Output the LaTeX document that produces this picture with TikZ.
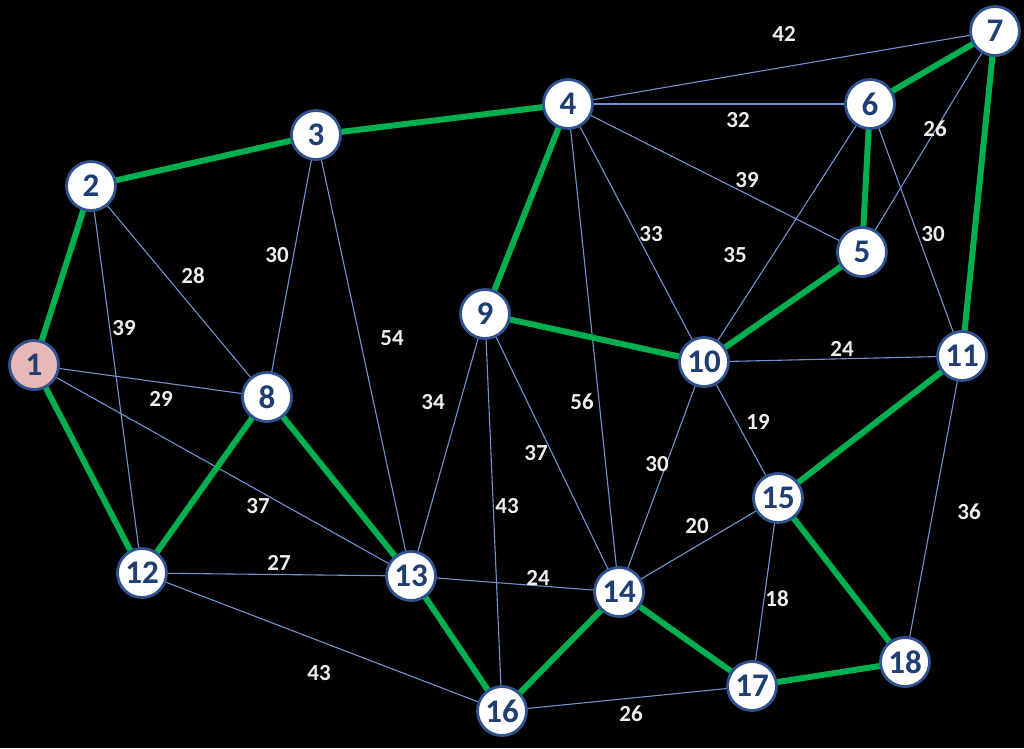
\documentclass[tikz,border=0pt]{standalone}
\usepackage{fontspec}
\setmainfont{Carlito}
\definecolor{tree}{HTML}{00B050}
\definecolor{thin}{HTML}{7193D2}
\definecolor{nborder}{HTML}{2F5290}
\definecolor{ntext}{HTML}{1F3F73}
\definecolor{lbl}{HTML}{EDEDED}
\definecolor{pinkfill}{HTML}{E6B9B8}
\pgfdeclarelayer{back}
\pgfdeclarelayer{bg}
\pgfsetlayers{back,bg,main}
\begin{document}
\begin{tikzpicture}[x=1pt,y=-1pt,
  vert/.style={circle,draw=nborder,line width=2.8pt,fill=white,minimum size=49pt,inner sep=0pt,text=ntext,font=\fontsize{33}{35}\selectfont\bfseries},
  start/.style={vert,fill=pinkfill},
  treeedge/.style={draw=tree,line width=6pt},
  thinedge/.style={draw=thin,line width=1.1pt},
  wlabel/.style={text=lbl,font=\fontsize{23}{25}\selectfont\bfseries,inner sep=0pt}]
\begin{pgfonlayer}{back}
\fill[black] (0,0) rectangle (1024,748);
\end{pgfonlayer}
\useasboundingbox (0,0) rectangle (1024,748);
% vertices
\node[start] (n1) at (34,365) {1};
\node[vert] (n2) at (91,186) {2};
\node[vert] (n3) at (316,135) {3};
\node[vert] (n4) at (568,104) {4};
\node[vert] (n5) at (862,252) {5};
\node[vert] (n6) at (870,104) {6};
\node[vert] (n7) at (995,31) {7};
\node[vert] (n8) at (267,397) {8};
\node[vert] (n9) at (485,314) {9};
\node[vert] (n10) at (704,362) {10};
\node[vert] (n11) at (962,356) {11};
\node[vert] (n12) at (142,573) {12};
\node[vert] (n13) at (411,576) {13};
\node[vert] (n14) at (619,592) {14};
\node[vert] (n15) at (778,498) {15};
\node[vert] (n16) at (502,711) {16};
\node[vert] (n17) at (752,686) {17};
\node[vert] (n18) at (905,662) {18};
% edges behind the vertices
\begin{pgfonlayer}{bg}
\foreach \a/\b in {4/7,4/6,4/5,4/10,4/14,6/10,7/5,6/11,10/11,10/15,10/14,9/13,9/16,9/14,3/8,3/13,2/8,2/12,1/8,1/13,12/13,13/14,12/16,16/17,15/14,15/17,11/18}
  \draw[thinedge] (n\a.center) -- (n\b.center);
\foreach \a/\b in {1/2,2/3,3/4,4/9,9/10,10/5,5/6,6/7,7/11,11/15,15/18,18/17,17/14,14/16,16/13,13/8,8/12,12/1}
  \draw[treeedge] (n\a.center) -- (n\b.center);
\end{pgfonlayer}
% weights
\node[wlabel] (w47) at (784,34) {42};
\node[wlabel] (w46) at (738,120) {32};
\node[wlabel] (w45) at (747,180) {39};
\node[wlabel] (w75) at (935,129) {26};
\node[wlabel] (w611) at (933,234) {30};
\node[wlabel] (w410) at (651,234) {33};
\node[wlabel] (w610) at (735,255) {35};
\node[wlabel] (w38) at (277,255) {30};
\node[wlabel] (w28) at (193,276) {28};
\node[wlabel] (w212) at (124,328) {39};
\node[wlabel] (w313) at (392,338) {54};
\node[wlabel] (w18) at (161,399) {29};
\node[wlabel] (w913) at (433,402) {34};
\node[wlabel] (w414) at (582,402) {56};
\node[wlabel] (w1011) at (842,349) {24};
\node[wlabel] (w1015) at (758,422) {19};
\node[wlabel] (w914) at (536,453) {37};
\node[wlabel] (w1014) at (657,464) {30};
\node[wlabel] (w916) at (507,506) {43};
\node[wlabel] (w113) at (258,506) {37};
\node[wlabel] (w1514) at (697,526) {20};
\node[wlabel] (w1118) at (969,512) {36};
\node[wlabel] (w1213) at (279,563) {27};
\node[wlabel] (w1314) at (538,578) {24};
\node[wlabel] (w1517) at (777,599) {18};
\node[wlabel] (w1216) at (319,673) {43};
\node[wlabel] (w1617) at (631,714) {26};
\end{tikzpicture}
\end{document}
